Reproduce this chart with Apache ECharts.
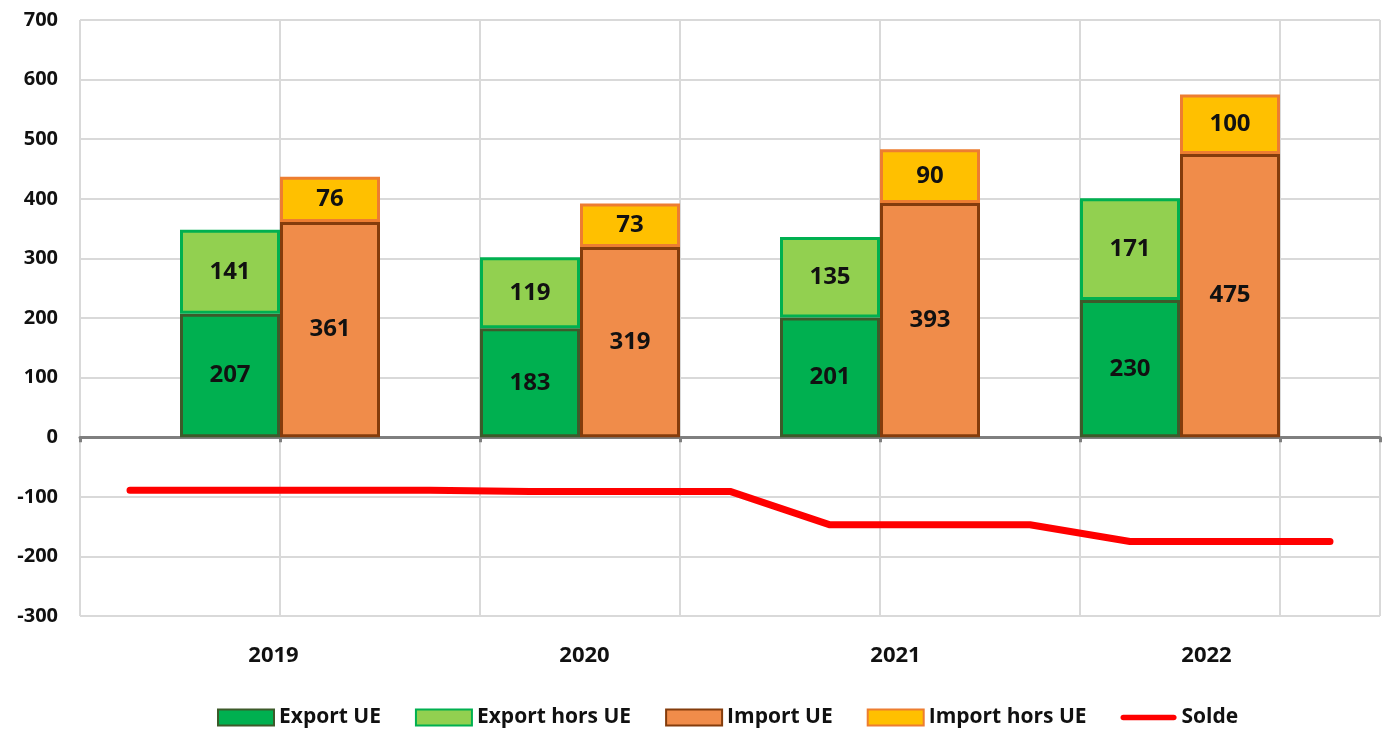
<!DOCTYPE html>
<html>
<head>
<meta charset="utf-8">
<script src="https://cdn.jsdelivr.net/npm/echarts@6/dist/echarts.min.js"></script>
<style>
  html, body { margin: 0; padding: 0; background: #fff; }
  #chart { width: 1383px; height: 729px; }
</style>
</head>
<body>
<div id="chart"></div>
<script>
const years = ['2019', '2020', '2021', '2022']
const exportUE = [207, 183, 201, 230]
const exportHorsUE = [141, 119, 135, 171]
const importUE = [361, 319, 393, 475]
const importHorsUE = [76, 73, 90, 100]
const solde = [-89, -91, -147, -175]
const yTicks = { min: -300, max: 700, interval: 100 }

// 13 slots : vide, export, import, vide, export, import, ... vide
const SLOTS = 13
const slots = Array.from({ length: SLOTS }, (_, i) => 's' + i)

function onSlots(values, offset) {
  const out = new Array(SLOTS).fill('-')
  values.forEach((v, k) => { out[1 + 3 * k + offset] = v })
  return out
}
// le solde reste a plat sur chaque annee (slots 0-3, 4-6, 7-9, 10-12)
function soldeSlots() {
  const out = []
  for (let i = 0; i < SLOTS; i++) {
    const k = i <= 3 ? 0 : Math.floor((i - 1) / 3)
    out.push(solde[k])
  }
  return out
}

const FONT = 'Open Sans'
const label = {
  show: true,
  position: 'inside',
  color: '#111',
  fontFamily: FONT,
  fontWeight: 'bold',
  fontSize: 24,
  formatter: p => p.value
}

function barSeries(name, data, color, border) {
  return {
    name: name,
    type: 'bar',
    xAxisIndex: 0,
    yAxisIndex: 0,
    stack: 'total',
    barWidth: '100%',
    data: data,
    label: label,
    itemStyle: { color: color, borderColor: border, borderWidth: 3 },
    emphasis: { disabled: true },
    animation: false
  }
}

const chart = echarts.init(document.getElementById('chart'))
chart.setOption({
  backgroundColor: '#fff',
  textStyle: { fontFamily: FONT },
  grid: [
    { left: 80, right: 3, top: 20, bottom: 113 },
    { left: 118, right: 21, top: 20, bottom: 113 }
  ],
  legend: {
    top: 702,
    left: 212,
    itemWidth: 56,
    itemHeight: 16,
    itemGap: 34,
    textStyle: { fontFamily: FONT, fontWeight: 'bold', fontSize: 21, color: '#111' },
    data: [
      { name: 'Export UE', icon: 'rect' },
      { name: 'Export hors UE', icon: 'rect' },
      { name: 'Import UE', icon: 'rect' },
      { name: 'Import hors UE', icon: 'rect' },
      { name: 'Solde', icon: 'path://M3,0 L57,0 A3,3 0 0 1 57,6 L3,6 A3,3 0 0 1 3,0 Z' }
    ]
  },
  xAxis: [
    {
      type: 'category',
      gridIndex: 0,
      data: slots,
      boundaryGap: true,
      axisLine: { onZero: true, lineStyle: { color: '#7f7f7f', width: 3 } },
      axisTick: { show: true, interval: i => i % 2 === 0, length: 5, lineStyle: { color: '#7f7f7f', width: 3 } },
      axisLabel: { show: false },
      splitLine: { show: true, interval: i => i % 2 === 0, lineStyle: { color: '#d9d9d9', width: 2 } }
    },
    {
      type: 'category',
      gridIndex: 1,
      data: years,
      axisLine: { show: false },
      axisTick: { show: false },
      axisLabel: { margin: 29, color: '#111', fontFamily: FONT, fontWeight: 'bold', fontSize: 22 },
      splitLine: { show: false }
    }
  ],
  yAxis: [
    {
      type: 'value',
      gridIndex: 0,
      min: yTicks.min,
      max: yTicks.max,
      interval: yTicks.interval,
      axisLine: { show: false },
      axisTick: { show: false },
      axisLabel: { margin: 22, color: '#111', fontFamily: FONT, fontWeight: 'bold', fontSize: 20 },
      splitLine: { lineStyle: { color: '#d9d9d9', width: 2 } }
    },
    {
      type: 'value',
      gridIndex: 1,
      show: false,
      min: yTicks.min,
      max: yTicks.max
    }
  ],
  series: [
    barSeries('Export UE', onSlots(exportUE, 0), '#00b050', '#3d5a2a'),
    barSeries('Export hors UE', onSlots(exportHorsUE, 0), '#92d050', '#00b050'),
    barSeries('Import UE', onSlots(importUE, 1), '#f08c4a', '#843c0c'),
    barSeries('Import hors UE', onSlots(importHorsUE, 1), '#ffc000', '#ed7d31'),
    {
      name: 'Solde',
      type: 'line',
      xAxisIndex: 0,
      yAxisIndex: 0,
      data: soldeSlots(),
      symbol: 'none',
      lineStyle: { color: '#ff0000', width: 7, cap: 'round', join: 'round' },
      itemStyle: { color: '#ff0000' },
      emphasis: { disabled: true },
      animation: false,
      z: 5
    }
  ]
})
</script>
</body>
</html>
